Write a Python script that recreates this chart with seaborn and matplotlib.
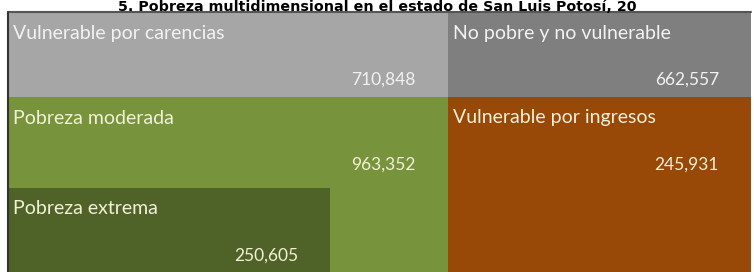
import matplotlib
matplotlib.use("Agg")
import matplotlib.pyplot as plt
import seaborn as sns

# Data
categories = ["Vulnerable por carencias", "No pobre y no vulnerable",
              "Pobreza moderada", "Vulnerable por ingresos", "Pobreza extrema"]
values = [710848, 662557, 963352, 245931, 250605]
colors = ["#A6A6A6", "#7F7F7F", "#77933C", "#984807", "#4F6228"]
TITLE = "5. Pobreza multidimensional en el estado de San Luis Potosí, 20"

# Schematic layout (pixel units of the panel): left, right, top, bottom
box_left = [8, 448, 8, 448, 8]
box_right = [448, 751, 448, 751, 330]
box_top = [12, 12, 97, 97, 188]
box_bottom = [97, 97, 272, 272, 272]

sns.set_theme(style="white")
plt.rcParams['font.family'] = ['Lato', 'DejaVu Sans']

fig = plt.figure(figsize=(7.54, 2.72), dpi=100)
ax = fig.add_axes([0, 0, 1, 1])
ax.set_xlim(0, 754)
ax.set_ylim(272, 0)
ax.axis("off")

for name, val, col, l, r, t, b in zip(categories, values, colors,
                                      box_left, box_right, box_top, box_bottom):
    ax.bar(l, b - t, width=r - l, bottom=t, align="edge", color=col,
           edgecolor="none", linewidth=0)
    txt_col = "#F2F2F2" if col in ("#A6A6A6", "#7F7F7F") else "#F3F0D8"
    ax.text(l + 5, t + 21, name, color=txt_col, fontsize=14,
            ha="left", va="center")
    ax.text(r - 32, t + 68, f"{val:,}", color=txt_col, fontsize=12.5,
            ha="right", va="center")

# outer frame lines
ax.plot([8, 751], [12, 12], color="#555555", lw=1.5)
ax.plot([8, 8], [12, 272], color="#333333", lw=1.5)

ax.text(377, 11, TITLE, ha="center", va="baseline",
        fontsize=10.3, fontweight="bold", color="black",
        family=["DejaVu Sans"])

fig.savefig("out.png", dpi=100)
